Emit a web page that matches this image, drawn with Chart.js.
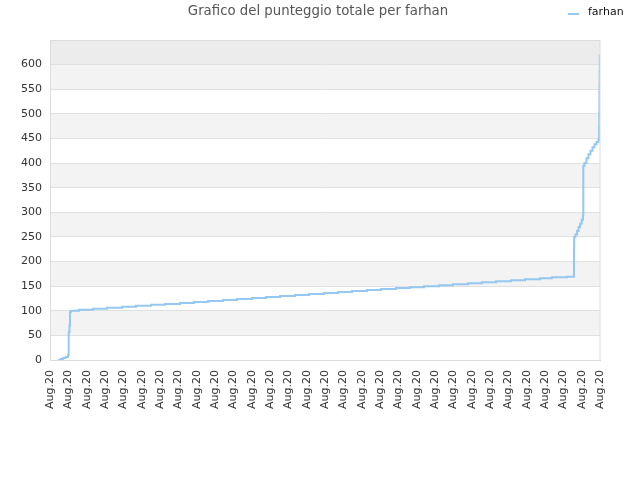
<!DOCTYPE html>
<html>
<head>
<meta charset="utf-8">
<script src="https://cdn.jsdelivr.net/npm/chart.js@4/dist/chart.umd.min.js"></script>
<style>
  html, body { margin: 0; padding: 0; background: #fff; }
  #wrap { width: 640px; height: 480px; }
</style>
</head>
<body>
<div id="wrap"><canvas id="chart" width="640" height="480"></canvas></div>
<script>
// ===============================
// DATA
// ===============================
const TITLE = "Grafico del punteggio totale per farhan";
const SERIES_NAME = "farhan";
const X_LABEL = "Aug.20";
const DAY_MAX = 30;

// position along the month (0 = first label, 30 = last label)
const days = [
    0.44, 0.58, 0.71, 0.85, 0.98, 1.02, 1.06, 1.09, 1.15,
    1.58, 2.35, 3.11, 3.93, 4.69, 5.51, 6.27, 7.09, 7.85, 8.62,
    9.44, 10.20, 11.02, 11.78, 12.55, 13.36, 14.13, 14.95, 15.71, 16.47,
    17.29, 18.05, 18.87, 19.64, 20.40, 21.22, 21.98, 22.80, 23.56, 24.33,
    25.15, 25.91, 26.73, 27.38, 28.20,
    28.58, 28.58, 28.59,
    28.66, 28.75, 28.83, 28.91, 29.00, 29.07,
    29.09, 29.09, 29.09,
    29.15, 29.26, 29.37, 29.48, 29.59, 29.70, 29.81, 29.91,
    29.95, 29.96, 29.97, 29.98, 29.99
];
const scores = [
    0, 2, 4, 6, 10, 57, 70, 98, 100,
    102, 104, 106, 108, 110, 112, 114, 116, 118, 120,
    122, 124, 126, 128, 130, 132, 134, 136, 138, 140,
    142, 144, 146, 148, 150, 152, 154, 156, 158, 160,
    162, 164, 166, 168, 169,
    203, 227, 250,
    255, 262, 270, 277, 285, 294,
    330, 360, 394,
    400, 410, 418, 425, 432, 438, 443, 447,
    474, 502, 559, 589, 620
];

const yTicks = [0, 50, 100, 150, 200, 250, 300, 350, 400, 450, 500, 550, 600];
const Y_MAX = 650;
const grayBands = [[50, 100], [150, 200], [250, 300], [350, 400], [450, 500], [550, 600]];
const topBand = [600, 650];

const LINE_COLOR = "rgba(130,190,240,0.85)";
const FONT = "'DejaVu Sans', sans-serif";

// ===============================
// PLUGINS
// ===============================
const bandsPlugin = {
    id: "bands",
    beforeDraw(chart) {
        const { ctx, chartArea, scales } = chart;
        const y = scales.y;
        ctx.save();
        ctx.fillStyle = "#f3f3f3";
        grayBands.forEach(([a, b]) => {
            const top = y.getPixelForValue(b), bot = y.getPixelForValue(a);
            ctx.fillRect(chartArea.left, top, chartArea.right - chartArea.left, bot - top);
        });
        ctx.fillStyle = "#ececec";
        const t = y.getPixelForValue(topBand[1]), b = y.getPixelForValue(topBand[0]);
        ctx.fillRect(chartArea.left, t, chartArea.right - chartArea.left, b - t);
        ctx.restore();
    },
    afterDraw(chart) {
        // plot frame
        const { ctx, chartArea } = chart;
        ctx.save();
        ctx.strokeStyle = "#dcdcdc";
        ctx.lineWidth = 1;
        ctx.strokeRect(chartArea.left + 0.5, chartArea.top + 0.5,
            chartArea.right - chartArea.left - 0.5, chartArea.bottom - chartArea.top);
        ctx.restore();
    }
};

// title + legend share the top row
const headerPlugin = {
    id: "header",
    afterDraw(chart) {
        const { ctx } = chart;
        ctx.save();
        ctx.fillStyle = "#555";
        ctx.font = "13.3px " + FONT;
        ctx.textAlign = "center";
        ctx.textBaseline = "middle";
        ctx.fillText(TITLE, 318, 12);

        ctx.strokeStyle = LINE_COLOR;
        ctx.lineWidth = 2;
        ctx.beginPath();
        ctx.moveTo(568, 14);
        ctx.lineTo(579, 14);
        ctx.stroke();
        ctx.fillStyle = "#111";
        ctx.font = "11px " + FONT;
        ctx.textAlign = "left";
        ctx.fillText(chart.data.datasets[0].label, 588, 12.5);
        ctx.restore();
    }
};

// ===============================
// CHART
// ===============================
new Chart(document.getElementById("chart"), {
    type: "line",
    data: {
        datasets: [{
            label: SERIES_NAME,
            data: days.map((d, i) => ({ x: d, y: scores[i] })),
            borderColor: LINE_COLOR,
            borderWidth: 2,
            pointRadius: 0,
            stepped: true,
            fill: false
        }]
    },
    options: {
        responsive: false,
        animation: false,
        layout: { padding: { left: 0, right: 40, top: 40, bottom: 0 } },
        plugins: {
            legend: { display: false },
            tooltip: { enabled: false },
            title: { display: false }
        },
        scales: {
            x: {
                type: "linear",
                min: 0,
                max: DAY_MAX,
                afterBuildTicks(axis) {
                    axis.ticks = [];
                    for (let i = 0; i <= DAY_MAX; i++) axis.ticks.push({ value: i });
                },
                afterFit(axis) { axis.height = 120; },
                grid: { display: false },
                border: { color: "#dcdcdc" },
                ticks: {
                    autoSkip: false,
                    minRotation: 90,
                    maxRotation: 90,
                    padding: 2,
                    color: "#333",
                    font: { family: FONT, size: 11 },
                    callback: () => X_LABEL
                }
            },
            y: {
                min: 0,
                max: Y_MAX,
                afterBuildTicks(axis) {
                    axis.ticks = yTicks.concat([Y_MAX]).map(v => ({ value: v }));
                },
                afterFit(axis) { axis.width = 50; },
                grid: { color: "#e0e0e0", drawTicks: false },
                border: { color: "#dcdcdc" },
                ticks: {
                    padding: 8,
                    color: "#333",
                    font: { family: FONT, size: 11 },
                    callback: v => (yTicks.includes(v) ? String(v) : "")
                }
            }
        }
    },
    plugins: [bandsPlugin, headerPlugin]
});
</script>
</body>
</html>
